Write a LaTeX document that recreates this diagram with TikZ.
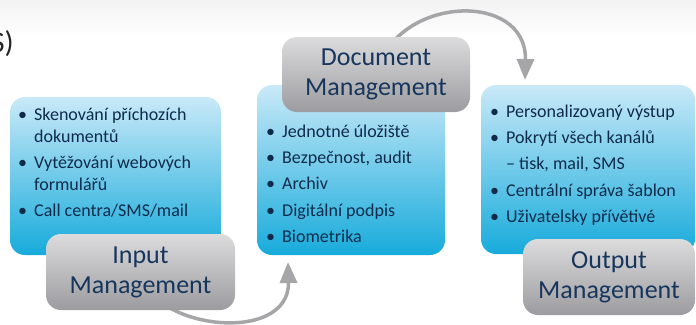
\documentclass[tikz,border=0pt]{standalone}
\usepackage{fontspec}
\setmainfont{Carlito}
\usepackage{tikz}
\usetikzlibrary{positioning,arrows.meta,backgrounds}
\definecolor{boxtop}{HTML}{C9E9F8}
\definecolor{boxbot}{HTML}{17ABDB}
\definecolor{captop}{HTML}{DCDCDD}
\definecolor{capbot}{HTML}{9C9CA0}
\definecolor{navy}{HTML}{0F2B4B}
\definecolor{capnavy}{HTML}{17365D}
\definecolor{flowgray}{HTML}{A6A6A8}
\newcommand{\bitem}[1]{\makebox[16pt][l]{•}#1}
\newcommand{\bcont}[1]{\hspace*{16pt}#1}

\begin{document}
\begin{tikzpicture}[x=1pt,y=-1pt,
    box/.style={rounded corners=15pt, top color=boxtop, bottom color=boxbot,
                inner sep=0pt, outer sep=0pt},
    capbox/.style={rounded corners=15pt, top color=captop, bottom color=capbot,
                inner sep=0pt, outer sep=0pt, text=capnavy, align=center,
                font=\fontsize{26}{30}\selectfont},
    list/.style={anchor=north west, inner sep=0pt, align=left, text=navy,
                 font=\fontsize{18}{22}\selectfont},
    flow/.style={draw=flowgray, line width=3.5pt,
                 -{Triangle[length=21pt,width=17pt]}}]
  \useasboundingbox (0,0) rectangle (696,324);

  % blue boxes
  \node[box, minimum width=211pt, minimum height=158pt] (in)  at (115.5,176) {};
  \node[box, minimum width=188pt, minimum height=170pt] (doc) at (351,170) {};
  \node[box, minimum width=214pt, minimum height=169pt] (out) at (588,169.5) {};

  \node[list] (inlist) at (18,107.5) {\bitem{Skenování příchozích}\\
    \bcont{dokumentů}\\[4pt]
    \bitem{Vytěžování webových}\\
    \bcont{formulářů}\\[4pt]
    \bitem{Call centra/SMS/mail}};
  \node[list] (doclist) at (266,124.5) {\bitem{Jednotné úložiště}\\[4.3pt]
    \bitem{Bezpečnost, audit}\\[4.3pt]
    \bitem{Archiv}\\[4.3pt]
    \bitem{Digitální podpis}\\[4.3pt]
    \bitem{Biometrika}};
  \node[list] (outlist) at (490,104.5) {\bitem{Personalizovaný výstup}\\[4.3pt]
    \bitem{Pokrytí všech kanálů}\\[4.3pt]
    \bcont{– tisk, mail, SMS}\\[4.3pt]
    \bitem{Centrální správa šablon}\\[4.3pt]
    \bitem{Uživatelsky přívětivé}};

  % grey captions
  \node[capbox, minimum width=189pt, minimum height=76pt] (inname)  at (140.5,272) {Input\\Management};
  \node[capbox, minimum width=188pt, minimum height=75pt] (docname) at (376,74.5) {Document\\Management};
  \node[capbox, minimum width=172pt, minimum height=76pt] (outname) at (609,277) {Output\\Management};

  \node[anchor=east, inner sep=0pt, text=black!85, font=\fontsize{30}{36}\selectfont] (head) at (14,44) {S)};

  \begin{scope}[on background layer]
    \shade[top color=black!5, bottom color=white] (0,0) rectangle (696,36);
    \draw[flow] (inname.center) .. controls +(10,58) and +(2,83)
      .. ([xshift=31pt,yshift=-7pt]doc.south west);
    \draw[flow] (docname.center) .. controls +(19,-79.5) and +(2,-90)
      .. ([xshift=44pt,yshift=5pt]out.north west);
  \end{scope}
\end{tikzpicture}
\end{document}
